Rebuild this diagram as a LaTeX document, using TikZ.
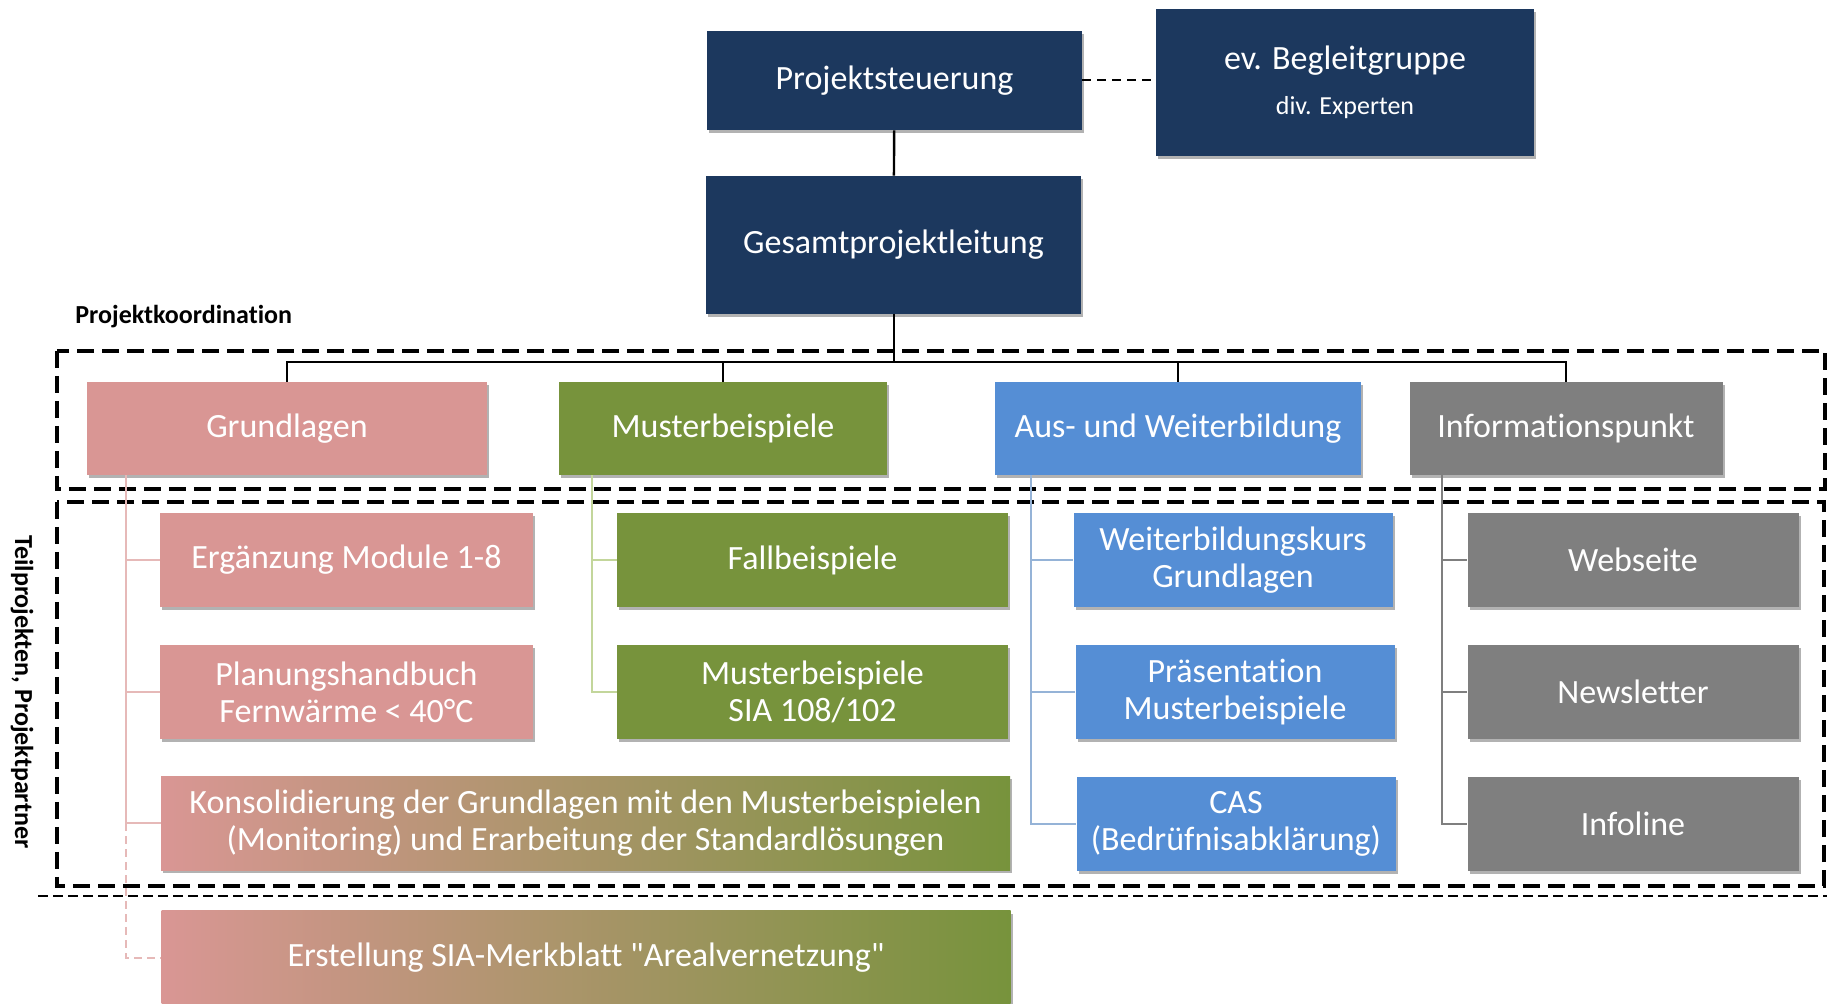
\documentclass[tikz,border=0pt]{standalone}
\usepackage{fontspec}
\setmainfont{Carlito}[Ligatures={TeXOff,NoCommon}]
\usepackage{tikz}
\usetikzlibrary{positioning, shadows}
\definecolor{navy}{RGB}{28,56,94}
\definecolor{rosa}{HTML}{D99694}
\definecolor{gruen}{HTML}{77933C}
\definecolor{blau}{HTML}{558ED5}
\definecolor{grau}{HTML}{7F7F7F}
\definecolor{rosaline}{HTML}{E6B9B8}
\definecolor{gruenline}{HTML}{C3D69B}
\definecolor{blauline}{HTML}{95B3D7}
\newcommand\Lne{black}

\begin{document}
\begin{tikzpicture}[x=0.5pt, y=-0.5pt,
    box/.style={rectangle, inner sep=0pt, align=center, text=white, font=\fontsize{17}{18.5}\selectfont,
      drop shadow={shadow xshift=1pt, shadow yshift=-1.5pt, opacity=0.3, fill=black}},
    frame/.style={line width=2.2pt, dash pattern=on 8.5pt off 4pt},
    lbl/.style={inner sep=0pt, font=\fontsize{13}{15}\selectfont\bfseries}]
  \useasboundingbox (0,0) rectangle (1827,1004);
  \draw[frame] (57,351) rectangle (1825,489);
  \draw[frame] (57,502) rectangle (1824,886);
  \draw[line width=1pt, dash pattern=on 5pt off 2.5pt] (38,896) -- (1827,896);
  \node[lbl, anchor=west] (pk) at (75,317) {Projektkoordination};
  \node[lbl, rotate=-90] (tp) at (22,692) {Teilprojekten, Projektpartner};

  \node[box, fill=navy, minimum width=187.5pt, minimum height=49.5pt] (ps) at (894.5,80.5) {Projektsteuerung};
  \node[box, fill=navy, minimum width=189pt, minimum height=73.5pt] (bg) at (1345,82.5)
    {ev. Begleitgruppe\\[4pt]{\fontsize{13}{15}\selectfont div. Experten}};
  \node[box, fill=navy, minimum width=187.5pt, minimum height=69pt] (gpl) at (893.5,245) {Gesamtprojektleitung};
  \draw[line width=1.2pt] (ps) -- (gpl);
  \draw[line width=1pt, dash pattern=on 4.5pt off 3pt] (ps.east) -- (ps.east -| bg.west);

  \coordinate (bus) at (893.5,362);
  \draw[line width=1pt] (gpl.south) -- (bus);
  \foreach \n/\x/\w/\c/\t in {gl/287/200/rosa/Grundlagen, mb/723/164/gruen/Musterbeispiele,
      aw/1178/183/blau/Aus- und Weiterbildung, ip/1566/156.5/grau/Informationspunkt}{
    \node[box, fill=\c, minimum width=\w pt, minimum height=46.5pt] (\n) at (\x,428.5) {\t};
    \draw[line width=1pt] (\n.north) |- (bus);
  }

  \foreach \n/\x/\y/\w/\c/\t in {
      erg/346.5/560/186.5/rosa/{Ergänzung Module 1-8},
      plan/346.5/692/186.5/rosa/{Planungshandbuch\\Fernwärme < 40°C},
      fall/812.5/560/195.5/gruen/{Fallbeispiele},
      msia/812.5/692/195.5/gruen/{Musterbeispiele\\SIA 108/102},
      wbk/1233/560/159.5/blau/{Weiterbildungskurs\\Grundlagen},
      pres/1235/692/159.5/blau/{Präsentation\\Musterbeispiele},
      cas/1236/824/159.5/blau/{CAS\\(Bedrüfnisabklärung)},
      web/1633/560/165.5/grau/{Webseite},
      news/1633/692/165.5/grau/{Newsletter},
      infl/1633/824/165.5/grau/{Infoline}}{
    \node[box, fill=\c, minimum width=\w pt, minimum height=47pt] (\n) at (\x,\y) {\t};
  }
  \node[box, left color=rosa, right color=gruen, minimum width=424.5pt, minimum height=47pt] (kons) at (585.5,823.5)
    {Konsolidierung der Grundlagen mit den Musterbeispielen\\(Monitoring) und Erarbeitung der Standardlösungen};
  \node[box, left color=rosa, right color=gruen, minimum width=424.5pt, minimum height=47pt] (erst) at (586,958)
    {Erstellung SIA-Merkblatt "Arealvernetzung"};

  \coordinate (glt) at ([xshift=19.5pt]gl.south west);
  \coordinate (mbt) at ([xshift=16.5pt]mb.south west);
  \coordinate (awt) at ([xshift=18pt]aw.south west);
  \coordinate (ipt) at ([xshift=16.25pt]ip.south west);
  \foreach \p/\k in {glt/erg, glt/plan, glt/kons, mbt/fall, mbt/msia, awt/wbk, awt/pres, awt/cas,
      ipt/web, ipt/news, ipt/infl}{
    \ifnum\pdfstrcmp{\p}{glt}=0 \renewcommand\Lne{rosaline}\fi
    \ifnum\pdfstrcmp{\p}{mbt}=0 \renewcommand\Lne{gruenline}\fi
    \ifnum\pdfstrcmp{\p}{awt}=0 \renewcommand\Lne{blauline}\fi
    \ifnum\pdfstrcmp{\p}{ipt}=0 \renewcommand\Lne{grau}\fi
    \draw[\Lne, line width=1pt] (\p) |- (\k.west);
  }
  \draw[rosaline, line width=1pt, dash pattern=on 4pt off 2.5pt] (glt |- kons.west) |- (erst.west);
\end{tikzpicture}
\end{document}
